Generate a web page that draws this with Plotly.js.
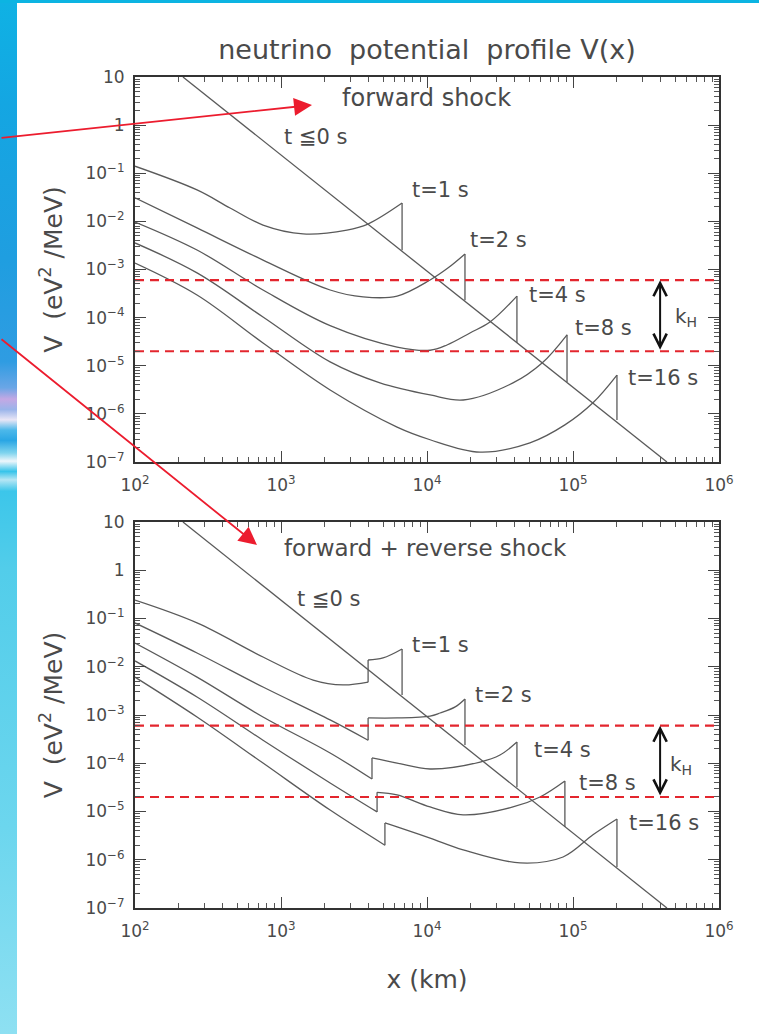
<!DOCTYPE html>
<html>
<head>
<meta charset="utf-8">
<script src="https://cdn.plot.ly/plotly-3.0.1.min.js"></script>
<style>
html,body{margin:0;padding:0;background:#fff;}
#wrap{position:relative;width:759px;height:1034px;overflow:hidden;background:#fff;}
#strip{position:absolute;left:0;top:0;width:17px;height:1034px;
 background:linear-gradient(to bottom,#0fb2e4 0%,#14a6e2 10%,#1f9ee0 25%,#2f9ce2 35%,#6aa6e6 37.5%,#c4a8e4 38.6%,#9ab4ea 39.6%,#e9e6f6 40.6%,#4cb8ea 41.6%,#2aa6e4 42.6%,#7fd4ee 43.8%,#eef6fb 44.6%,#38c4ea 45.6%,#b6e6f4 46.4%,#3cc6ea 47.5%,#52cdea 55%,#6cd6ee 80%,#8ee0f2 100%);}
#topstrip{position:absolute;left:0;top:0;width:759px;height:3px;background:#0cb4e2;}
#chart{position:absolute;left:0;top:0;width:759px;height:1034px;}
</style>
</head>
<body>
<div id="wrap">
<div id="strip"></div>
<div id="topstrip"></div>
<div id="chart"></div>
</div>
<script>
// ---------------- data ----------------
// progenitor profile t <= 0 s (both panels)
const xPre = [213, 440000];
const vPre = [10, 1e-7];

// resonance levels (k_H band)
const kLevels = [6e-4, 2e-5];

// --- top panel: forward shock ---
const xF1 = [100, 266, 448, 753, 1416, 2830, 3940, 6750, 6750];
const vF1 = [0.14, 0.045, 0.019, 8.4e-3, 5.5e-3, 6.6e-3, 8.8e-3, 2.4e-2, 2.5e-3];

const xF2 = [100, 266, 753, 2170, 3650, 6240, 10500, 13900, 18200, 18200];
const vF2 = [0.031, 7.3e-3, 1.57e-3, 3.75e-4, 2.7e-4, 2.8e-4, 6.05e-4, 1.07e-3, 2.1e-3, 2.3e-4];

const xF4 = [100, 266, 753, 2170, 6240, 10500, 13700, 19700, 27000, 41300, 41300];
const vF4 = [9.7e-3, 2.54e-3, 3.75e-4, 6.8e-5, 2.45e-5, 2.1e-5, 2.7e-5, 4.8e-5, 8.1e-5, 2.8e-4, 3.0e-5];

const xF8 = [100, 266, 753, 2170, 4760, 10500, 17700, 38800, 61400, 91000, 91000];
const vF8 = [3.56e-3, 8.5e-4, 1.03e-4, 1.2e-5, 4.4e-6, 2.47e-6, 1.94e-6, 4.4e-6, 1.14e-5, 4.4e-5, 4.6e-6];

const xF16 = [100, 266, 753, 2170, 6240, 10500, 23100, 50700, 88000, 137000, 200000, 200000];
const vF16 = [1.36e-3, 2.95e-4, 2.97e-5, 3.13e-6, 5.3e-7, 2.9e-7, 1.6e-7, 2.5e-7, 5.9e-7, 1.7e-6, 6.4e-6, 7.5e-7];

// --- bottom panel: forward + reverse shock ---
const xR1 = [100, 266, 753, 1660, 2660, 3950, 3950, 5000, 6750, 6750];
const vR1 = [0.24, 0.081, 0.0159, 5.3e-3, 4.2e-3, 4.8e-3, 0.0138, 0.0152, 0.0233, 2.6e-3];

const xR2 = [100, 266, 753, 2170, 3950, 3950, 6240, 10500, 12300, 15600, 18200, 18200];
const vR2 = [0.081, 0.0193, 3.8e-3, 7.9e-4, 3.0e-4, 8.7e-4, 8.7e-4, 9.5e-4, 1.1e-3, 1.47e-3, 2.15e-3, 2.4e-4];

const xR4 = [100, 266, 753, 2170, 4200, 4200, 6240, 10500, 23100, 31600, 41300, 41300];
const vR4 = [0.031, 6.1e-3, 9.1e-4, 1.63e-4, 4.7e-5, 1.29e-4, 1.01e-4, 7.6e-5, 1.06e-4, 1.48e-4, 2.75e-4, 3.2e-5];

const xR8 = [100, 266, 753, 2170, 4550, 4550, 6240, 10500, 17700, 38800, 59400, 88000, 88000];
const vR8 = [0.0132, 2.36e-3, 3.0e-4, 3.9e-5, 9.8e-6, 2.5e-5, 2.2e-5, 1.24e-5, 8.5e-6, 1.24e-5, 2.0e-5, 4.3e-5, 4.8e-6];

const xR16 = [100, 266, 753, 2170, 5150, 5150, 6240, 10500, 17700, 43400, 85500, 137000, 200000, 200000];
const vR16 = [6.1e-3, 9.1e-4, 1.01e-4, 1.07e-5, 2.0e-6, 5.8e-6, 4.8e-6, 2.8e-6, 1.6e-6, 8.6e-7, 1.14e-6, 3.3e-6, 7.0e-6, 7.1e-7];

// tick labels
const xTickVals = [1e2, 1e3, 1e4, 1e5, 1e6];
const xTickText = ['10<sup>2</sup>', '10<sup>3</sup>', '10<sup>4</sup>', '10<sup>5</sup>', '10<sup>6</sup>'];
const yTickVals = [1e-7, 1e-6, 1e-5, 1e-4, 1e-3, 1e-2, 1e-1, 1, 10];
const yTickText = ['10<sup>\u22127</sup>', '10<sup>\u22126</sup>', '10<sup>\u22125</sup>', '10<sup>\u22124</sup>',
                   '10<sup>\u22123</sup>', '10<sup>\u22122</sup>', '10<sup>\u22121</sup>', '1', '10'];

// ---------------- drawing ----------------
const F = 'DejaVu Sans';
const TXT = '#4a4a4a';
const CURVE = '#5a5a5a';
const W = 759, H = 1034;

function splitCurve(xs, vs) {
  const sx = [], sy = [], jx = [], jy = [];
  for (let i = 0; i < xs.length; i++) {
    if (i > 0 && xs[i] === xs[i - 1]) {
      sx.push(null); sy.push(null);
      jx.push(xs[i - 1], xs[i], null);
      jy.push(vs[i - 1], vs[i], null);
    }
    sx.push(xs[i]); sy.push(vs[i]);
  }
  return {sx, sy, jx, jy};
}

const traces = [];
function addCurve(xs, vs, xa, ya) {
  const c = splitCurve(xs, vs);
  traces.push({x: c.sx, y: c.sy, xaxis: xa, yaxis: ya, mode: 'lines', connectgaps: false,
    line: {color: CURVE, width: 1.3, shape: 'spline', smoothing: 1}, hoverinfo: 'skip', showlegend: false});
  traces.push({x: c.jx, y: c.jy, xaxis: xa, yaxis: ya, mode: 'lines', connectgaps: false,
    line: {color: CURVE, width: 1.3}, hoverinfo: 'skip', showlegend: false});
}
function addPanel(xa, ya, curves) {
  traces.push({x: xPre, y: vPre, xaxis: xa, yaxis: ya, mode: 'lines',
    line: {color: CURVE, width: 1.3}, hoverinfo: 'skip', showlegend: false});
  curves.forEach(c => addCurve(c[0], c[1], xa, ya));
  kLevels.forEach(k => traces.push({x: [xTickVals[0], xTickVals[xTickVals.length - 1]], y: [k, k],
    xaxis: xa, yaxis: ya, mode: 'lines', line: {color: '#e3262e', width: 2.2, dash: '9px,6px'},
    hoverinfo: 'skip', showlegend: false}));
}
addPanel('x', 'y', [[xF1, vF1], [xF2, vF2], [xF4, vF4], [xF8, vF8], [xF16, vF16]]);
addPanel('x2', 'y2', [[xR1, vR1], [xR2, vR2], [xR4, vR4], [xR8, vR8], [xR16, vR16]]);

function baseAxis() {
  return {type: 'log', showline: true, linewidth: 2, linecolor: '#333', mirror: 'allticks',
    ticks: 'inside', ticklen: 11, tickwidth: 1, tickcolor: '#444', showgrid: false, zeroline: false,
    tickfont: {family: F, size: 17, color: TXT}, fixedrange: true,
    minor: {ticks: 'inside', ticklen: 5, tickwidth: 1, tickcolor: '#555', dtick: 'D1', showgrid: false}};
}
const xDom = [135 / W, 719 / W];
const yDomTop = [1 - 462 / H, 1 - 77 / H];
const yDomBot = [1 - 908 / H, 1 - 522 / H];

function xAxis(anchor, withTitle) {
  const a = Object.assign(baseAxis(), {range: [2, 6], domain: xDom, anchor: anchor,
    tickmode: 'array', tickvals: xTickVals, ticktext: xTickText, ticklabelstandoff: 7});
  if (withTitle) a.title = {text: 'x (km)', font: {family: F, size: 25, color: TXT}, standoff: 30};
  return a;
}
function yAxis(anchor, dom) {
  return Object.assign(baseAxis(), {range: [-7, 1], domain: dom, anchor: anchor,
    tickmode: 'array', tickvals: yTickVals, ticktext: yTickText, ticklabelstandoff: 5,
    title: {text: 'V  (eV<sup>2</sup> /MeV)', font: {family: F, size: 25, color: TXT}, standoff: 16}});
}

const L = Math.log10;
function lab(xa, ya, x, y, text, size) {
  return {xref: xa, yref: ya, x: L(x), y: L(y), text: text, showarrow: false,
    xanchor: 'left', yanchor: 'middle', font: {family: F, size: size, color: TXT}};
}
function kArrow(xa, ya) {
  return {xref: xa, yref: ya, axref: xa, ayref: ya, x: L(3.95e5), y: L(kLevels[0]),
    ax: L(3.95e5), ay: L(kLevels[1]), text: '', showarrow: true, arrowside: 'end+start',
    arrowhead: 5, startarrowhead: 5, arrowsize: 1.3, startarrowsize: 1.3, arrowwidth: 2, arrowcolor: '#111'};
}
const annotations = [
  lab('x', 'y', 2540, 3.66, 'forward shock', 24),
  lab('x', 'y', 1016, 0.566, 't \u22660 s', 21),
  lab('x', 'y', 7650, 0.0449, 't=1 s', 21),
  lab('x', 'y', 19100, 4.1e-3, 't=2 s', 21),
  lab('x', 'y', 48400, 2.95e-4, 't=4 s', 21),
  lab('x', 'y', 100000, 6.08e-5, 't=8 s', 21),
  lab('x', 'y', 230700, 5.56e-6, 't=16 s', 21),
  lab('x', 'y', 484000, 1.03e-4, 'k<sub>H</sub>', 20),
  kArrow('x', 'y'),
  lab('x2', 'y2', 1016, 2.89, 'forward + reverse shock', 23),
  lab('x2', 'y2', 1247, 0.254, 't \u22660 s', 21),
  lab('x2', 'y2', 7650, 0.0283, 't=1 s', 21),
  lab('x2', 'y2', 20650, 2.6e-3, 't=2 s', 21),
  lab('x2', 'y2', 52360, 1.88e-4, 't=4 s', 21),
  lab('x2', 'y2', 106400, 3.9e-5, 't=8 s', 21),
  lab('x2', 'y2', 234400, 5.78e-6, 't=16 s', 21),
  lab('x2', 'y2', 447700, 9.2e-5, 'k<sub>H</sub>', 20),
  kArrow('x2', 'y2'),
  // red pointer arrows coming in from the slide's left edge
  {xref: 'paper', yref: 'paper', x: 312 / W, y: 1 - 105 / H, ax: -312, ay: 33, text: '', showarrow: true,
    arrowhead: 2, arrowsize: 2, arrowwidth: 1.8, arrowcolor: '#ec1c2e'},
  {xref: 'paper', yref: 'paper', x: 257 / W, y: 1 - 545 / H, ax: -257, ay: -207, text: '', showarrow: true,
    arrowhead: 2, arrowsize: 2, arrowwidth: 1.8, arrowcolor: '#ec1c2e'}
];

const layout = {
  width: W, height: H,
  margin: {l: 0, r: 0, t: 0, b: 0, pad: 0},
  paper_bgcolor: 'rgba(0,0,0,0)', plot_bgcolor: '#ffffff',
  showlegend: false,
  title: {text: 'neutrino  potential  profile V(x)', font: {family: F, size: 27, color: TXT},
    x: 427 / W, xanchor: 'center', y: 1 - 50 / H, yanchor: 'middle', xref: 'paper', yref: 'paper'},
  xaxis: xAxis('y', false),
  yaxis: yAxis('x', yDomTop),
  xaxis2: xAxis('y2', true),
  yaxis2: yAxis('x2', yDomBot),
  annotations: annotations
};

Plotly.newPlot('chart', traces, layout, {staticPlot: true, displayModeBar: false});
</script>
</body>
</html>
